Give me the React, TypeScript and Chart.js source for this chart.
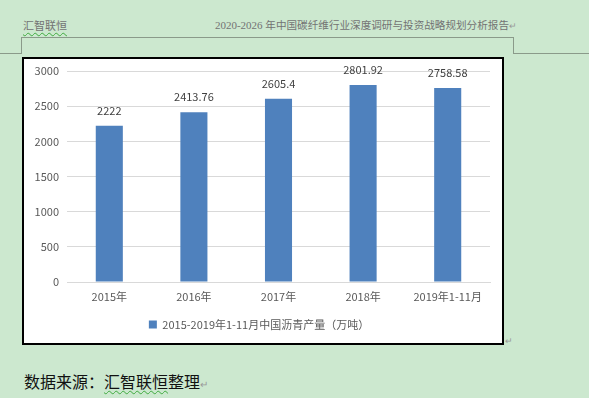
import React, { useEffect, useRef } from "react";
import { Chart, registerables } from "chart.js";

Chart.register(...registerables);

const categories = ["2015年", "2016年", "2017年", "2018年", "2019年1-11月"];
const seriesName = "2015-2019年1-11月中国沥青产量（万吨）";
const values = [2222, 2413.76, 2605.4, 2801.92, 2758.58];
const valueLabels = ["2222", "2413.76", "2605.4", "2801.92", "2758.58"];
const yTicks = [0, 500, 1000, 1500, 2000, 2500, 3000];

const CJK = '"Noto Sans CJK SC", "Noto Sans", sans-serif';

const dataLabelPlugin = {
  id: "dataLabels",
  afterDatasetsDraw(chart: any) {
    const ctx = chart.ctx;
    const meta = chart.getDatasetMeta(0);
    ctx.save();
    ctx.font = `11px ${CJK}`;
    ctx.fillStyle = "#404040";
    ctx.textAlign = "center";
    ctx.textBaseline = "middle";
    meta.data.forEach((el: any, i: number) => {
      ctx.fillText(valueLabels[i], el.x, el.y - 15);
    });
    ctx.restore();
  },
};

export default function App() {
  const ref = useRef<HTMLCanvasElement>(null);
  useEffect(() => {
    document.body.style.margin = "0";
    const chart = new Chart(ref.current!, {
      type: "bar",
      data: {
        labels: categories,
        datasets: [
          {
            label: seriesName,
            data: values,
            backgroundColor: "#4F81BD",
            borderWidth: 0,
            categoryPercentage: 1,
            barPercentage: 0.32,
          },
        ],
      },
      options: {
        animation: false,
        responsive: false,
        devicePixelRatio: 1,
        layout: { padding: { top: 12, right: 12, bottom: 3, left: 4 } },
        plugins: {
          legend: {
            position: "bottom",
            labels: {
              boxWidth: 8,
              boxHeight: 8,
              padding: 10,
              color: "#595959",
              font: { size: 11, family: CJK },
            },
          },
          tooltip: { enabled: false },
        },
        scales: {
          x: {
            grid: { display: false, drawTicks: false },
            border: { display: true, color: "#D9D9D9", width: 1 },
            ticks: { color: "#595959", font: { size: 11, family: CJK }, padding: 8, maxRotation: 0 },
            afterFit(scale: any) {
              scale.height = 27;
            },
          },
          y: {
            min: 0,
            max: 3000,
            afterBuildTicks(scale: any) {
              scale.ticks = yTicks.map((v) => ({ value: v }));
            },
            grid: { color: "#D9D9D9", drawTicks: false },
            border: { display: false },
            ticks: {
              color: "#595959",
              font: { size: 11, family: CJK },
              padding: 8,
              callback: (v: any) => String(v),
            },
            afterFit(scale: any) {
              scale.width = 39;
              scale.paddingTop = 0;
            },
          },
        },
      },
      plugins: [dataLabelPlugin],
    } as any);
    return () => chart.destroy();
  }, []);

  const gray = "#737373";
  const lineColor = "#8a9a8a";
  const wavy: React.CSSProperties = {
    textDecorationLine: "underline",
    textDecorationStyle: "wavy",
    textDecorationColor: "#3faa3f",
    textDecorationThickness: "1px",
    textUnderlineOffset: "2px",
  };

  return (
    <div
      style={{
        position: "fixed",
        left: 0,
        top: 0,
        width: 589,
        height: 398,
        background: "#CCE8CF",
        overflow: "hidden",
        fontFamily: CJK,
      }}
    >
      <div style={{ position: "absolute", left: 23, top: 16, fontSize: 11, lineHeight: "18px", color: gray }}>
        <span style={wavy}>汇智联恒</span>
      </div>
      <div
        style={{
          position: "absolute",
          right: 72,
          top: 16,
          fontSize: 10.6,
          lineHeight: "18px",
          color: gray,
          whiteSpace: "nowrap",
        }}
      >
        <span style={{ fontFamily: '"Liberation Serif", serif', fontSize: 11 }}>2020-2026 </span>
        年中国碳纤维行业深度调研与投资战略规划分析报告
        <span style={{ fontSize: 9, color: "#999" }}>↵</span>
      </div>
      {/* header rule */}
      <div style={{ position: "absolute", left: 21, top: 37, width: 492, height: 1, background: lineColor }} />
      <div style={{ position: "absolute", left: 21, top: 37, width: 1, height: 17, background: lineColor }} />
      <div style={{ position: "absolute", left: 513, top: 37, width: 1, height: 17, background: lineColor }} />
      <div style={{ position: "absolute", left: 0, top: 53, width: 21, height: 1, background: lineColor }} />
      <div style={{ position: "absolute", left: 513, top: 53, width: 76, height: 1, background: lineColor }} />
      {/* chart box */}
      <div
        style={{
          position: "absolute",
          left: 22,
          top: 57,
          width: 482,
          height: 288,
          border: "2px solid #000",
          boxSizing: "border-box",
          background: "#fff",
        }}
      >
        <canvas ref={ref} width={478} height={284} style={{ display: "block", width: 478, height: 284 }} />
      </div>
      <div style={{ position: "absolute", left: 505, top: 334, fontSize: 9, color: "#999" }}>↵</div>
      {/* footer */}
      <div
        style={{
          position: "absolute",
          left: 24,
          top: 370,
          fontSize: 16,
          lineHeight: "22px",
          color: "#111",
          whiteSpace: "nowrap",
        }}
      >
        数据来源：<span style={wavy}>汇智联恒</span>整理
        <span style={{ fontSize: 10, color: "#999" }}>↵</span>
      </div>
    </div>
  );
}
